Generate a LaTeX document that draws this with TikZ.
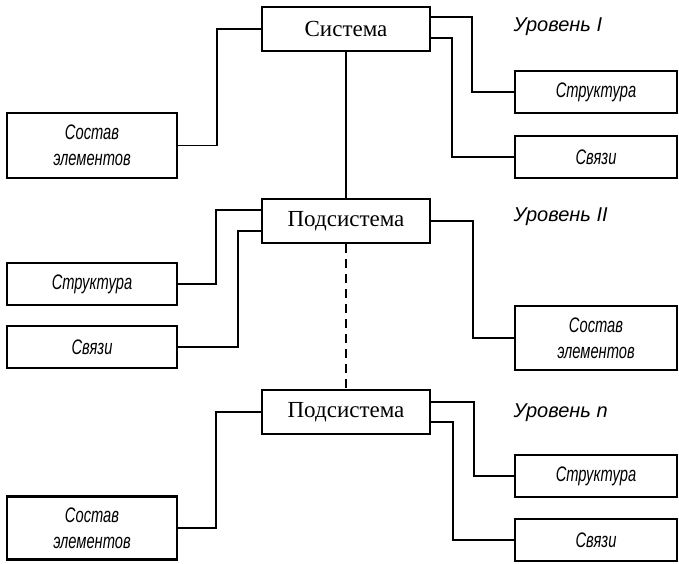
\documentclass[tikz,border=0pt]{standalone}
\usepackage{fontspec}
\setmainfont{Liberation Serif}
\newfontfamily\gostfont{Liberation Sans}[FakeStretch=0.7]
\newfontfamily\lvlfont{Liberation Sans}

\tikzset{
  sysbox/.style={draw,line width=2.4pt,minimum width=168pt,minimum height=44pt,inner sep=0pt,
    font=\fontsize{23}{27}\selectfont},
  partbox/.style={draw,line width=2.4pt,minimum height=42pt,inner sep=0pt,align=center,
    font=\gostfont\itshape\fontsize{21}{26}\selectfont},
  lvl/.style={anchor=west,font=\lvlfont\itshape\fontsize{20}{24}\selectfont},
  link/.style={line width=1.6pt}
}

\begin{document}
\begin{tikzpicture}[x=1pt,y=-1pt]
  \useasboundingbox (0,0) rectangle (679,563);
  % levels
  \node[sysbox] (sys) at (346,29) {Система};
  \node[sysbox] (sub1) at (346,221) {Подсистема};
  \node[sysbox] (sub2) at (346,412) {Подсистема};
  \node[lvl] (lvl1) at (510,27) {Уровень I};
  \node[lvl] (lvl2) at (510,217) {Уровень II};
  \node[lvl] (lvl3) at (510,413) {Уровень n};
  % left side
  \node[partbox,minimum width=170pt,minimum height=65pt] (sost1) at (92,145.5) {Состав\\элементов};
  \node[partbox,minimum width=170pt] (str2) at (92,284) {Структура};
  \node[partbox,minimum width=170pt] (sv2) at (92,347) {Связи};
  \node[partbox,minimum width=170pt,minimum height=63pt] (sost3) at (92,528) {Состав\\элементов};
  % right side
  \node[partbox,minimum width=162pt] (str1) at (596,92) {Структура};
  \node[partbox,minimum width=162pt] (sv1) at (596,157) {Связи};
  \node[partbox,minimum width=162pt,minimum height=64pt] (sost2) at (596,338) {Состав\\элементов};
  \node[partbox,minimum width=162pt] (str3) at (596,476) {Структура};
  \node[partbox,minimum width=162pt] (sv3) at (596,540) {Связи};
  % links
  \draw[link] (sys.south) -- (sub1.north);
  \draw[link,dash pattern=on 9pt off 6pt] (sub1.south) -- (sub2.north);
  \draw[link] (sys.west) -- ++(-44,0) |- (sost1.east);
  \draw[link] ([yshift=12pt]sys.east) -- ++(41,0) |- (str1.west);
  \draw[link] ([yshift=-9pt]sys.east) -- ++(21,0) |- (sv1.west);
  \draw[link] ([yshift=11pt]sub1.west) -- ++(-45,0) |- (str2.east);
  \draw[link] ([yshift=-10pt]sub1.west) -- ++(-23,0) |- (sv2.east);
  \draw[link] (sub1.east) -- ++(42,0) |- (sost2.west);
  \draw[link] (sub2.west) -- ++(-45,0) |- (sost3.east);
  \draw[link] ([yshift=10pt]sub2.east) -- ++(43,0) |- (str3.west);
  \draw[link] ([yshift=-10pt]sub2.east) -- ++(22,0) |- (sv3.west);
\end{tikzpicture}
\end{document}
